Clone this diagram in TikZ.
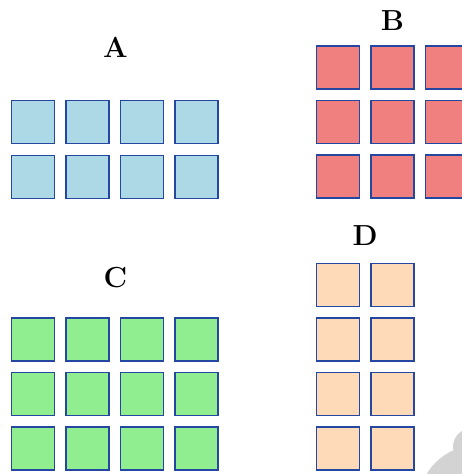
\documentclass[tikz,border=0pt]{standalone}
\usetikzlibrary{positioning}
\definecolor{edgeblue}{HTML}{2448A2}
\definecolor{cA}{HTML}{ADD8E6}
\definecolor{cB}{HTML}{F08080}
\definecolor{cC}{HTML}{90EE90}
\definecolor{cD}{HTML}{FFDAB9}
\definecolor{wm}{HTML}{D3D3D3}
\tikzset{
  cell/.style={draw=edgeblue, line width=1.3pt, minimum size=43pt, inner sep=0pt, outer sep=0pt},
  grouplabel/.style={font=\fontsize{29}{34}\selectfont\bfseries, inner sep=0pt, anchor=base}
}
\begin{document}
\begin{tikzpicture}[x=1pt,y=-1pt]
\useasboundingbox (0,0) rectangle (462,474);
\clip (0,0) rectangle (462,474);
% watermark-like grey shape
\fill[wm] (478,505) circle (60);
\fill[wm] (472,447) circle (19);
% labels
\node[grouplabel] (labA) at (115.5,57) {A};
\node[grouplabel] (labB) at (392.5,30) {B};
\node[grouplabel] (labC) at (115.5,287.5) {C};
\node[grouplabel] (labD) at (365,245.5) {D};
% group A: 2 rows x 4 cols
\foreach \r/\y in {1/122,2/177}
  \foreach \c/\x in {1/33,2/87.5,3/142,4/196.5}
    \node[cell, fill=cA] (A\r\c) at (\x,\y) {};
% group B: 3 rows x 3 cols
\foreach \r/\y in {1/67.5,2/122,3/176.5}
  \foreach \c/\x in {1/338,2/392.5,3/447}
    \node[cell, fill=cB] (B\r\c) at (\x,\y) {};
% group C: 3 rows x 4 cols
\foreach \r/\y in {1/339.5,2/394,3/448.5}
  \foreach \c/\x in {1/33,2/87.5,3/142,4/196.5}
    \node[cell, fill=cC] (C\r\c) at (\x,\y) {};
% group D: 4 rows x 2 cols
\foreach \r/\y in {1/285,2/339.5,3/394,4/448.5}
  \foreach \c/\x in {1/338,2/392.5}
    \node[cell, fill=cD] (D\r\c) at (\x,\y) {};
\end{tikzpicture}
\end{document}
